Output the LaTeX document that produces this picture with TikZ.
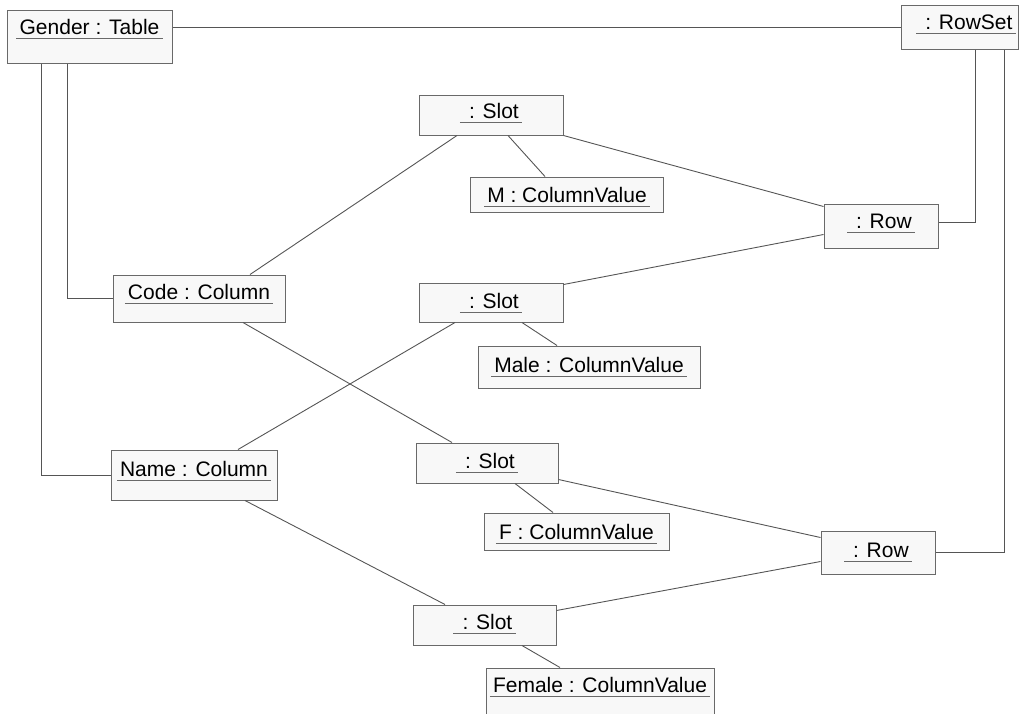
\documentclass[tikz,border=0pt]{standalone}
\usepackage{fontspec}
\setmainfont{Liberation Sans}
\usetikzlibrary{calc,fit}

\definecolor{boxline}{RGB}{105,105,105}
\definecolor{boxfill}{RGB}{248,248,248}
\definecolor{linkline}{RGB}{85,85,85}

\tikzset{
  obj/.style={draw=boxline, fill=boxfill, line width=1pt, inner sep=0pt},
  lbl/.style={anchor=base, inner xsep=3pt, inner ysep=0pt,
              font=\fontsize{21}{24}\selectfont, text=black},
  uline/.style={draw=boxline, line width=1pt},
  conn/.style={draw=linkline, line width=0.9pt},
}

% object box with underlined name: id, left, top, right, bottom, centre x, underline y, text
\newcommand{\umlobject}[8]{%
  \node[obj, fit={(#2,#3) (#4,#5)}] (#1) {};
  \node[lbl] (#1-t) at (#6,#7-3.5) {#8};
  \draw[uline] ([yshift=-3.5pt]#1-t.base west) -- ([yshift=-3.5pt]#1-t.base east);
}

\begin{document}
\begin{tikzpicture}[x=1pt,y=-1pt]
\useasboundingbox (0,0) rectangle (1022,713);
\clip (0,0) rectangle (1022,713);

\umlobject{gender}{7}{10}{172}{63}{89.5}{38}{Gender : Table}
\umlobject{rowset}{901}{5}{1018}{49}{966}{33}{\ : RowSet}
\umlobject{slot1}{419}{95}{563}{135}{491}{122}{\ : Slot}
\umlobject{m}{470}{177}{663}{212}{567}{206}{M : ColumnValue}
\umlobject{row1}{824}{204}{938}{248}{881}{232}{\ : Row}
\umlobject{code}{113}{275}{285}{322}{199}{303}{Code : Column}
\umlobject{slot2}{419}{283}{563}{322}{491}{312}{\ : Slot}
\umlobject{male}{478}{346}{700}{388}{589}{376}{Male : ColumnValue}
\umlobject{name}{111}{450}{277}{500}{194}{480}{Name : Column}
\umlobject{slot3}{416}{443}{558}{483}{487}{472}{\ : Slot}
\umlobject{f}{484}{513}{669}{550}{576.5}{543}{F : ColumnValue}
\umlobject{row2}{821}{531}{935}{574}{878}{561}{\ : Row}
\umlobject{slot4}{413}{605}{556}{645}{484.5}{633}{\ : Slot}
\umlobject{female}{486}{668}{714}{730}{600}{696}{Female : ColumnValue}

% links
\draw[conn] (gender.east |- rowset.west) -- (rowset.west);
\draw[conn] ($(gender.south west)+(61,0)$) |- (code.west);
\draw[conn] ($(gender.south west)+(35,0)$) |- (name.west);
\draw[conn] ($(rowset.south west)+(75,0)$) |- ($(row1.east)+(0,-4)$);
\draw[conn] ($(rowset.south west)+(104,0)$) |- (row2.east);
\draw[conn] ($(slot1.south)+(-34,0)$) -- ($(code.north)+(51,0)$);
\draw[conn] ($(slot1.south)+(17,0)$) -- ($(m.north)+(-21.5,0)$);
\draw[conn] (slot1.south east) -- ($(row1.north west)+(0,3)$);
\draw[conn] ($(row1.north west)+(0,31)$) -- ($(slot2.north east)+(0,2)$);
\draw[conn] ($(slot2.south)+(-36,0)$) -- ($(name.north)+(44,0)$);
\draw[conn] ($(slot2.south)+(31,0)$) -- ($(male.north)+(-32,0)$);
\draw[conn] ($(code.south)+(44,0)$) -- ($(slot3.north)+(-35,0)$);
\draw[conn] ($(slot3.south)+(28,0)$) -- ($(f.north)+(-23.5,0)$);
\draw[conn] ($(slot3.south east)+(0,-4)$) -- ($(row2.north west)+(0,7)$);
\draw[conn] ($(row2.north west)+(0,31)$) -- ($(slot4.north east)+(0,6)$);
\draw[conn] ($(name.south)+(51,0)$) -- ($(slot4.north)+(-39.5,0)$);
\draw[conn] ($(slot4.south)+(37.5,0)$) -- ($(female.north)+(-40,0)$);
\end{tikzpicture}
\end{document}
